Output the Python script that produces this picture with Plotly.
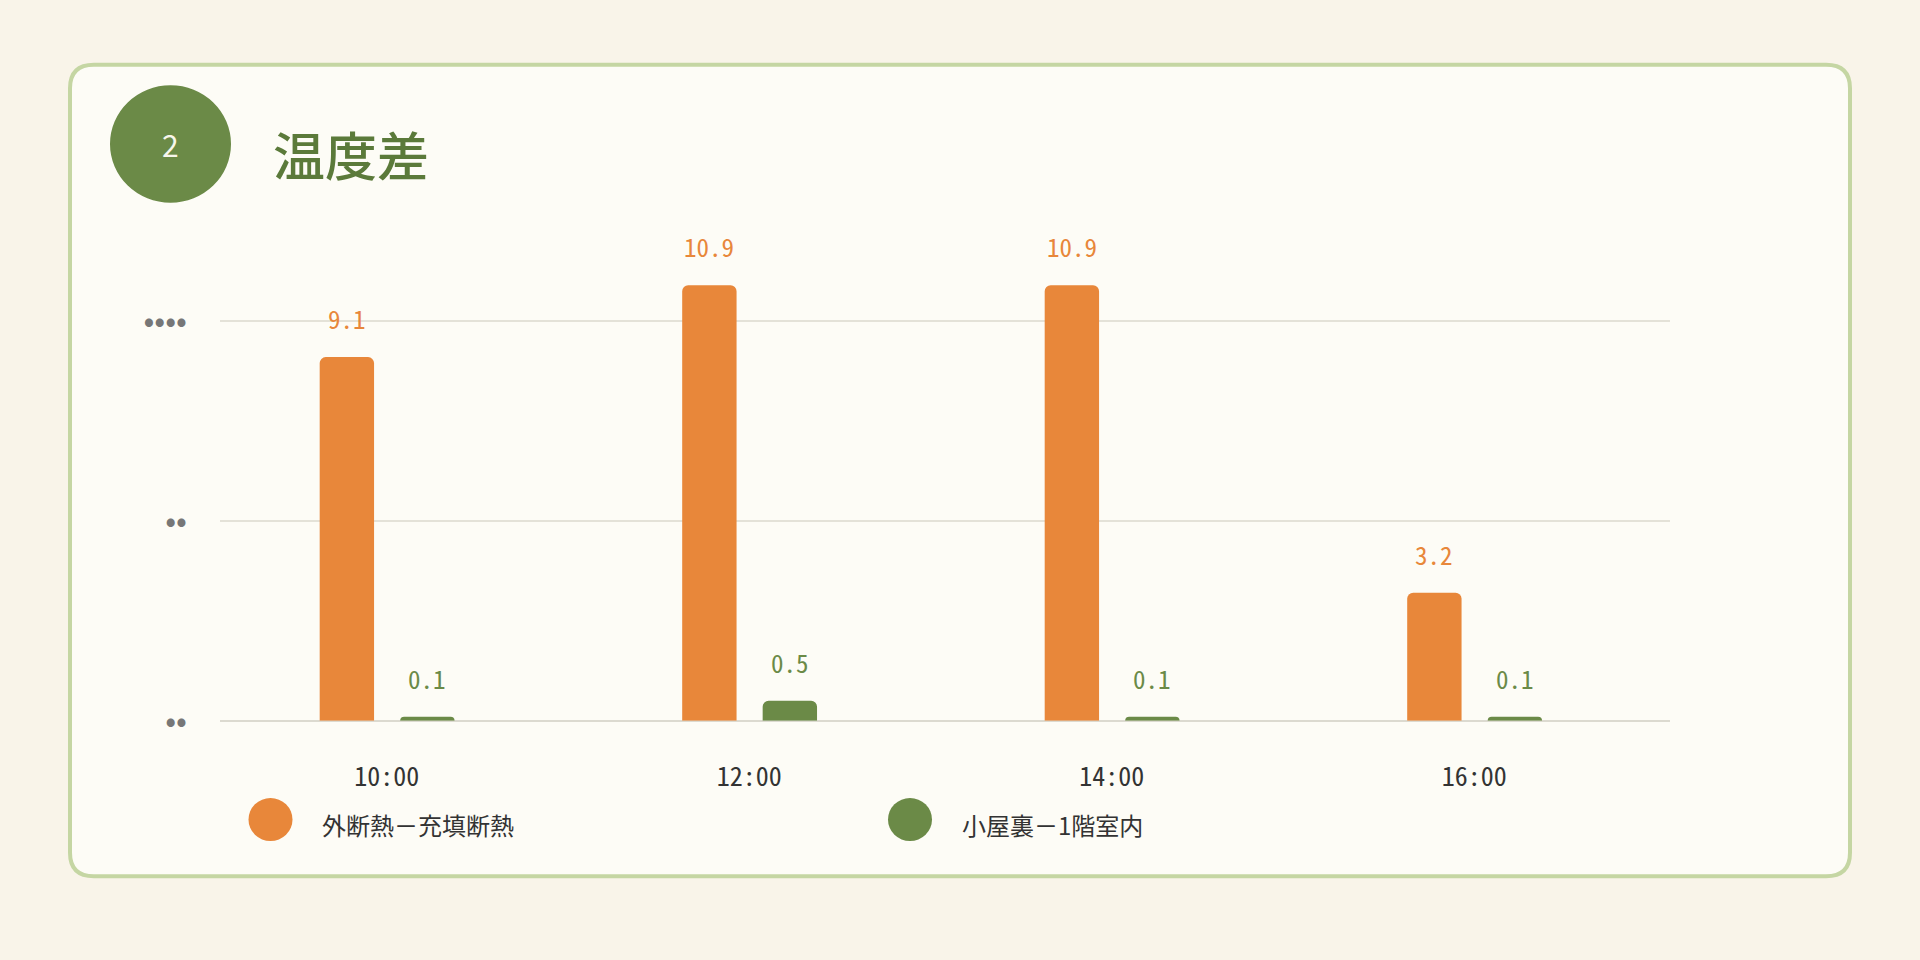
import plotly.graph_objects as go

# data
times = ['10:00', '12:00', '14:00', '16:00']
outer_vs_filled = [9.1, 10.9, 10.9, 3.2]
attic_vs_1f = [0.1, 0.5, 0.1, 0.1]
series_names = ['外断熱－充填断熱', '小屋裏－1階室内']
y_tick_vals = [0, 5, 10]
y_tick_text = ['••', '••', '••••']

W, H = 1920, 960
ORANGE = '#e8873a'
GREEN = '#6b8a47'
FONT = 'Noto Sans CJK JP'
MONO = 'Noto Sans Mono CJK JP, Noto Sans CJK JP'


def px(x):
	return x / W


def py(y):
	return 1 - y / H


def round_rect(x0, y0, x1, y1, r):
	# rounded rectangle path in paper coords (input in pixels)
	pts = [
		('M', px(x0 + r), py(y0)),
		('L', px(x1 - r), py(y0)),
		('Q', px(x1), py(y0), px(x1), py(y0 + r)),
		('L', px(x1), py(y1 - r)),
		('Q', px(x1), py(y1), px(x1 - r), py(y1)),
		('L', px(x0 + r), py(y1)),
		('Q', px(x0), py(y1), px(x0), py(y1 - r)),
		('L', px(x0), py(y0 + r)),
		('Q', px(x0), py(y0), px(x0 + r), py(y0)),
	]
	s = ''
	for p in pts:
		s += p[0] + ' ' + ' '.join('%.5f' % v for v in p[1:]) + ' '
	return s + 'Z'


bar_w = 0.15
fig = go.Figure()
fig.add_trace(go.Bar(x=times, y=outer_vs_filled, name=series_names[0],
                     width=bar_w, offset=-0.185,
                     marker=dict(color=ORANGE, line=dict(width=0)),
                     showlegend=False, hoverinfo='skip'))
fig.add_trace(go.Bar(x=times, y=attic_vs_1f, name=series_names[1],
                     width=bar_w, offset=0.037,
                     marker=dict(color=GREEN, line=dict(width=0)),
                     showlegend=False, hoverinfo='skip'))

annotations = []
# value labels above the bars
unit_px = (1670 - 220) / 4.0
for vals, color, off in [(outer_vs_filled, ORANGE, -0.185), (attic_vs_1f, GREEN, 0.037)]:
	for t, v in zip(times, vals):
		annotations.append(dict(x=t, y=v, xref='x', yref='y', text='%.1f' % v,
		                        showarrow=False, xshift=(off + bar_w / 2) * unit_px,
		                        yshift=39, yanchor='middle', xanchor='center',
		                        font=dict(family=MONO, size=25, color=color)))

# header
annotations.append(dict(x=px(170), y=py(147), xref='paper', yref='paper', text='2',
                        showarrow=False, xanchor='center', yanchor='middle',
                        font=dict(family=FONT, size=30, color='#f7f6ec')))
annotations.append(dict(x=px(271), y=py(157), xref='paper', yref='paper', text='温度差',
                        showarrow=False, xanchor='left', yanchor='middle',
                        font=dict(family=FONT, size=52, color='#5b7a3a', weight=500)))

# legend labels
for name, lx in [(series_names[0], 320), (series_names[1], 960)]:
	annotations.append(dict(x=px(lx), y=py(842), xref='paper', yref='paper', text=name,
	                        showarrow=False, xanchor='left', yanchor='middle',
	                        font=dict(family=FONT, size=24, color='#333333')))

shapes = [
	dict(type='path', path=round_rect(70, 66, 1850, 895, 24), xref='paper', yref='paper',
	     fillcolor='#fdfcf6', line=dict(color='#c5d6a3', width=4), layer='below'),
	dict(type='circle', xref='paper', yref='paper', x0=px(110), x1=px(231),
	     y0=py(87), y1=py(207), fillcolor=GREEN, line=dict(width=0), layer='below'),
]
for color, cx in [(ORANGE, 270.5), (GREEN, 910)]:
	shapes.append(dict(type='circle', xref='paper', yref='paper', x0=px(cx - 22), x1=px(cx + 22),
	                   y0=py(815), y1=py(859), fillcolor=color, line=dict(width=0)))

fig.update_layout(
	width=W, height=H,
	autosize=False,
	margin=dict(l=0, r=0, t=0, b=0, pad=0),
	paper_bgcolor='#f9f4e9',
	plot_bgcolor='rgba(0,0,0,0)',
	barmode='group',
	barcornerradius=6,
	showlegend=False,
	shapes=shapes,
	annotations=annotations,
	xaxis=dict(domain=[px(220), px(1670)], range=[-0.46, 3.54], showgrid=False,
	           zeroline=False, showline=False, ticks='', ticklabelstandoff=38,
	           tickfont=dict(family=MONO, size=26, color='#333333'), fixedrange=True),
	yaxis=dict(domain=[py(736), py(226)], range=[0, 12.5], tickvals=y_tick_vals,
	           ticktext=y_tick_text, showgrid=True, gridcolor='#e4e2d8', gridwidth=1.5,
	           zeroline=True, zerolinecolor='#dcdad0', zerolinewidth=1.5,
	           showline=False, ticks='', ticklabelstandoff=32,
	           tickfont=dict(family=FONT, size=32, color='#777777'), fixedrange=True),
)

page_css = ("var s=document.body.style;s.margin='0';s.padding='0';s.overflow='hidden';"
            "s.background='#f9f4e9';")
fig.write_html('out.html', config={'displayModeBar': False, 'responsive': False},
               post_script=page_css)
